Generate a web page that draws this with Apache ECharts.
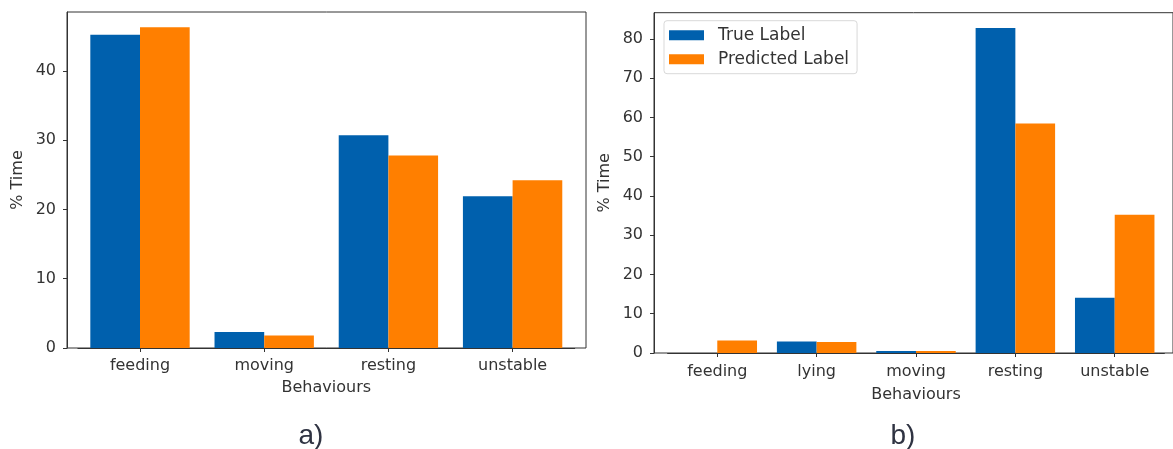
<!DOCTYPE html>
<html>
<head>
<meta charset="utf-8">
<script src="https://cdn.jsdelivr.net/npm/echarts@6/dist/echarts.min.js"></script>
<style>
html,body{margin:0;padding:0;background:#fff;}
#c{width:1173px;height:449px;}
</style>
</head>
<body>
<div id="c"></div>
<script>
// ---- data ----
const catsA = ['feeding', 'moving', 'resting', 'unstable'];
const trueA = [45.2, 2.3, 30.7, 21.9];
const predA = [46.3, 1.8, 27.8, 24.2];
const ticksA = [0, 10, 20, 30, 40];

const catsB = ['feeding', 'lying', 'moving', 'resting', 'unstable'];
const trueB = [0, 2.9, 0.5, 82.8, 14.1];
const predB = [3.2, 2.8, 0.5, 58.5, 35.2];
const ticksB = [0, 10, 20, 30, 40, 50, 60, 70, 80];

const seriesNames = ['True Label', 'Predicted Label'];
const captions = ['a)', 'b)'];

// ---- styles ----
const BLUE = '#0060AD';
const ORANGE = '#FF7F00';
const AX = '#333333';
const TXT = '#333333';
const FONT = 'DejaVu Sans';

function yAxisFor(grid, max, ticks, offset) {
  return {
    type: 'value', gridIndex: grid, min: 0, max: max, offset: offset,
    name: '% Time', nameLocation: 'middle', nameGap: 41,
    nameTextStyle: {color: TXT, fontFamily: FONT, fontSize: 16},
    axisLine: {show: true, lineStyle: {color: AX, width: 1}},
    axisTick: {show: true, length: 4, inside: false, customValues: ticks, lineStyle: {color: AX}},
    axisLabel: {color: TXT, fontFamily: FONT, fontSize: 16, margin: 11, customValues: ticks},
    splitLine: {show: false}
  };
}
function xAxisFor(grid, cats, gap, margin) {
  return {
    type: 'category', gridIndex: grid, data: cats,
    name: 'Behaviours', nameLocation: 'middle', nameGap: gap,
    nameTextStyle: {color: TXT, fontFamily: FONT, fontSize: 16},
    axisLine: {show: true, lineStyle: {color: AX, width: 1}},
    axisTick: {show: true, alignWithLabel: true, length: 4, lineStyle: {color: AX}},
    axisLabel: {color: TXT, fontFamily: FONT, fontSize: 16, margin: margin, interval: 0},
    splitLine: {show: false}
  };
}
function bar(name, data, xi, yi, color) {
  return {
    type: 'bar', name: name, data: data, xAxisIndex: xi, yAxisIndex: yi,
    barGap: '0%', barCategoryGap: '20%',
    itemStyle: {color: color}, animation: false
  };
}

const chart = echarts.init(document.getElementById('c'), null, {renderer: 'canvas'});
chart.setOption({
  backgroundColor: '#fff',
  animation: false,
  grid: [
    // frame a
    {left: 67, top: 12, width: 519, height: 336, show: true, borderColor: AX, borderWidth: 1, backgroundColor: 'transparent'},
    // data a
    {left: 77.9, top: 12, width: 496.8, height: 336},
    // frame b
    {left: 654, top: 12.7, width: 700, height: 340.3, show: true, borderColor: AX, borderWidth: 1, backgroundColor: 'transparent'},
    // data b
    {left: 667.6, top: 12.7, width: 496.8, height: 340.3}
  ],
  xAxis: [xAxisFor(1, catsA, 32, 10), xAxisFor(3, catsB, 34, 11)],
  yAxis: [yAxisFor(1, 48.5, ticksA, 10.9), yAxisFor(3, 86.7, ticksB, 13.6)],
  legend: {
    left: 664, top: 20.7, orient: 'vertical',
    data: seriesNames,
    icon: 'rect', itemWidth: 35, itemHeight: 10, itemGap: 7,
    padding: [6, 8, 6, 5],
    borderColor: '#d9d9d9', borderWidth: 1, borderRadius: 3, backgroundColor: 'rgba(255,255,255,0.8)',
    textStyle: {color: TXT, fontFamily: FONT, fontSize: 17, padding: [0, 0, 0, 9]},
    selectedMode: false
  },
  title: [
    {text: captions[0], left: 306, top: 431, textAlign: 'center', textVerticalAlign: 'middle',
     textStyle: {color: '#2f3342', fontFamily: 'Liberation Sans', fontSize: 28, fontWeight: 'normal'}},
    {text: captions[1], left: 898, top: 431, textAlign: 'center', textVerticalAlign: 'middle',
     textStyle: {color: '#2f3342', fontFamily: 'Liberation Sans', fontSize: 28, fontWeight: 'normal'}}
  ],
  series: [
    bar(seriesNames[0] + ' ', trueA, 0, 0, BLUE),
    bar(seriesNames[1] + ' ', predA, 0, 0, ORANGE),
    bar(seriesNames[0], trueB, 1, 1, BLUE),
    bar(seriesNames[1], predB, 1, 1, ORANGE)
  ]
});
</script>
</body>
</html>
